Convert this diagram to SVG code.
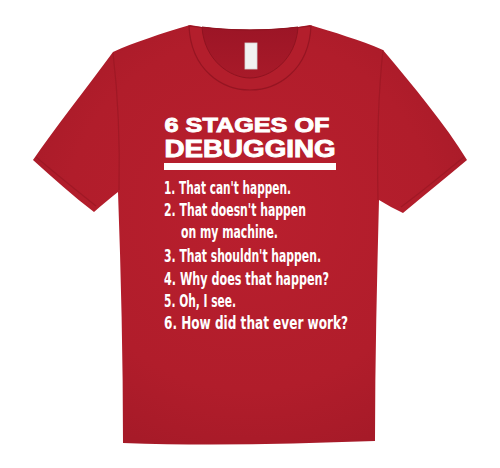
<svg xmlns="http://www.w3.org/2000/svg" width="500" height="468" viewBox="0 0 500 468">
<defs>
<radialGradient id="body" cx="0.5" cy="0.45" r="0.6">
<stop offset="0" stop-color="#b91f2e"/>
<stop offset="0.7" stop-color="#b11d2b"/>
<stop offset="1" stop-color="#a61a28"/>
</radialGradient>
<linearGradient id="back" x1="0" y1="0" x2="0" y2="1">
<stop offset="0" stop-color="#9c1526"/>
<stop offset="1" stop-color="#a81a29"/>
</linearGradient>
</defs>
<style>
.seam{fill:none;stroke:#951522;stroke-width:1.2;opacity:0.6}
.title{font-family:"Liberation Sans",Arial,sans-serif;font-weight:900;fill:#fff;stroke:#fff;stroke-width:0.9}
.item{font-family:"DejaVu Sans","Liberation Sans",sans-serif;font-stretch:condensed;font-weight:600;font-size:17px;fill:#fff}
</style>
<rect width="500" height="468" fill="#ffffff"/>
<g id="shirt">
<path d="M190,25 C160,34 135,42 113,52 C85,90 55,128 33,160 C53,178 73,196 94,212 C102,205 110,198 118,192 C121,275 123,360 123,443 C207,446 291,444 375,441 C375,360 377,280 379,200 C387,205 395,209 403,213 C424,195 446,178 467,160 C445,124 414,87 383,50 C360,40 333,32 310,25 C290,29 270,30 250,30 C230,30 210,29 190,25 Z" fill="url(#body)"/>
<path class="seam" d="M113,53 C118,95 120,145 119,190"/>
<path class="seam" d="M383,50 C378,95 377,150 378,200"/>
<path class="seam" d="M36,157 C56,174 76,190 96,206"/>
<path class="seam" d="M464,157 C443,174 423,191 401,207"/>
</g>
<g id="collar">
<path d="M189,26 C191,70 222,90 250,90 C278,90 309,70 311,26 C290,29 270,30 250,30 C230,30 210,29 189,26 Z" fill="#b31e2c" stroke="#951522" stroke-width="1.2"/>
<path d="M202,27 C204,60 230,78 250,78 C270,78 296,60 298,27 C282,29 266,30 250,30 C234,30 218,29 202,27 Z" fill="url(#back)" stroke="#8f1320" stroke-width="1"/>
<rect x="245" y="43" width="12" height="26" fill="#f2f2f2" stroke="#d8d8d8" stroke-width="0.8"/>
</g>
<g id="print">
<text class="title" x="164.5" y="132" font-size="21" textLength="165" lengthAdjust="spacingAndGlyphs">6 STAGES OF</text>
<text class="title" x="164.5" y="157" font-size="23" textLength="171" lengthAdjust="spacingAndGlyphs">DEBUGGING</text>
<rect x="164" y="163" width="172" height="7" fill="#fff"/>
<text class="item" x="164" y="194" textLength="127" lengthAdjust="spacingAndGlyphs">1. That can't happen.</text>
<text class="item" x="164" y="216" textLength="142" lengthAdjust="spacingAndGlyphs">2. That doesn't happen</text>
<text class="item" x="181" y="238" textLength="97" lengthAdjust="spacingAndGlyphs">on my machine.</text>
<text class="item" x="164" y="262" textLength="157" lengthAdjust="spacingAndGlyphs">3. That shouldn't happen.</text>
<text class="item" x="164" y="285" textLength="165" lengthAdjust="spacingAndGlyphs">4. Why does that happen?</text>
<text class="item" x="164" y="307" textLength="72" lengthAdjust="spacingAndGlyphs">5. Oh, I see.</text>
<text class="item" x="164" y="329" textLength="184" lengthAdjust="spacingAndGlyphs">6. How did that ever work?</text>
</g>
</svg>
